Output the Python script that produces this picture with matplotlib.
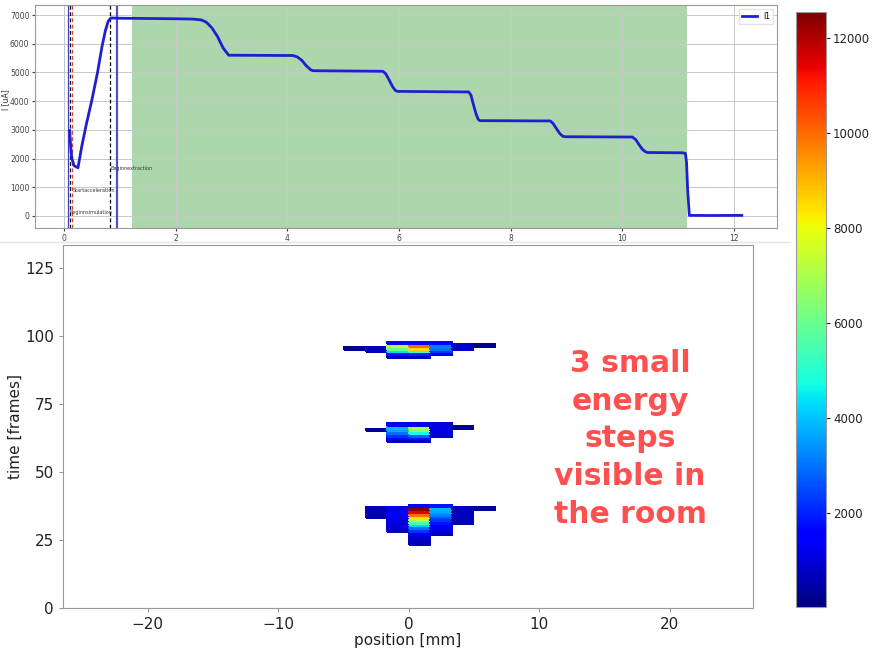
import numpy as np
import matplotlib
matplotlib.use("Agg")
import matplotlib.pyplot as plt
from matplotlib.colors import Normalize
from matplotlib.lines import Line2D

nan = np.nan

# ---------------- top panel data (beam current vs time) ----------------
t_s = [0.10, 0.12, 0.14, 0.18, 0.25, 0.32, 0.40, 0.50, 0.60, 0.68, 0.74, 0.79, 0.84,
       0.95, 1.5, 2.0, 2.30, 2.46, 2.55, 2.65, 2.75, 2.85, 2.95,
       4.10, 4.18, 4.26, 4.34, 4.42, 4.46,
       5.71, 5.76, 5.82, 5.88, 5.93, 5.97,
       7.25, 7.29, 7.33, 7.38, 7.42, 7.45,
       8.71, 8.76, 8.82, 8.88, 8.93, 8.97,
       10.18, 10.24, 10.30, 10.36, 10.41, 10.45,
       11.08, 11.13, 11.15, 11.17, 11.20, 11.6, 12.14]
current_uA = [2975, 2400, 2000, 1750, 1680, 2450, 3200, 4050, 5000, 5900, 6450, 6780, 6900,
              6890, 6880, 6870, 6860, 6830, 6750, 6550, 6250, 5850, 5600,
              5590, 5540, 5420, 5230, 5090, 5060,
              5040, 4960, 4750, 4520, 4380, 4340,
              4320, 4200, 3900, 3550, 3360, 3320,
              3310, 3220, 3040, 2870, 2780, 2760,
              2750, 2660, 2480, 2320, 2240, 2210,
              2200, 2180, 1860, 900, 20, 15, 20]
green_start, green_end = 1.22, 11.15
event_labels = ["Beginnsimulation", "Startacceleration", "Beginnextraction"]

# ---------------- bottom panel data (position vs time histogram) ----------------
x_edges = [-4.95, -3.3, -1.65, 0.0, 1.65, 3.3, 4.95, 6.6]

blob1_start = 92   # rows bottom -> top, one frame each
blob1 = [
    [nan, nan,  700,   800,  nan, nan, nan],
    [nan, nan, 1800,  2000, 1200, nan, nan],
    [nan, 600, 4300,  5500, 2200, nan, nan],
    [300, 700, 6000,  8500, 3000, 800, nan],
    [nan, nan, 7200, 10000, 3200, 900, 300],
    [nan, nan, 1500,  1600, 1400, nan, nan],
]

blob2_start = 61
blob2 = [
    [nan, nan,  900,  900,  nan, nan, nan],
    [nan, nan, 1600, 1800,  nan, nan, nan],
    [nan, nan, 2200, 2800,  900, nan, nan],
    [nan, nan, 3000, 4800, 1000, nan, nan],
    [nan, 300, 3600, 6200, 1100, nan, nan],
    [nan, nan, 3800, 7000, 1100, 300, nan],
    [nan, nan, 1300, 1300, 1000, nan, nan],
]

blob3_start = 23
blob3 = [
    [nan, nan,  nan,   600,  nan, nan, nan],
    [nan, nan,  nan,   700,  nan, nan, nan],
    [nan, nan,  nan,   800,  nan, nan, nan],
    [nan, nan,  nan,  1000,  nan, nan, nan],
    [nan, nan,  nan,  1500,  800, nan, nan],
    [nan, nan,  700,  2200, 1000, nan, nan],
    [nan, nan,  900,  3000, 1200, nan, nan],
    [nan, nan, 1000,  4200, 1500, nan, nan],
    [nan, nan, 1100,  5500, 1800, 500, nan],
    [nan, nan, 1200,  7000, 2200, 600, nan],
    [nan, 500, 1200,  8500, 2600, 700, nan],
    [nan, 600, 1300, 10000, 3200, 700, nan],
    [nan, 600, 1300, 11500, 3600, 700, nan],
    [nan, 600, 1200, 12500, 3800, 700, 300],
    [nan, nan,  nan,  1500, 1800, nan, nan],
]

cbar_ticks = [2000, 4000, 6000, 8000, 10000, 12000]
vmin, vmax = 20, 12550

annotation = "3 small\nenergy\nsteps\nvisible in\nthe room"

# ---------------- figure ----------------
W, H = 877, 650
fig = plt.figure(figsize=(W / 100, H / 100), dpi=100)

def box(l, t, r, b):
    return [l / W, 1 - b / H, (r - l) / W, (b - t) / H]

# top panel
ax1 = fig.add_axes(box(35, 5, 777, 228))
ax1.set_axisbelow('line')
ax1.axvspan(green_start, green_end, color='#acd6ac', lw=0, zorder=1)
ax1.plot(t_s, current_uA, color='#1f1fcf', lw=2.0, label='I1', zorder=3)
ax1.axvline(0.08, color='#3b3bd0', lw=0.9, zorder=2.5)
ax1.axvline(0.10, color='black', lw=0.9, ls=(0, (3, 2)), zorder=2.5)
ax1.axvline(0.14, color='#d04040', lw=0.9, ls=(0, (3, 2)), zorder=2.5)
ax1.axvline(0.83, color='black', lw=0.9, ls=(0, (3, 2)), zorder=2.5)
ax1.axvline(0.95, color='#5050c8', lw=1.6, zorder=2.5)
ax1.text(0.09, 30, event_labels[0], fontsize=3.5, color='#333333', va='bottom')
ax1.text(0.15, 800, event_labels[1], fontsize=3.5, color='#333333', va='bottom')
ax1.text(0.84, 1550, event_labels[2], fontsize=3.5, color='#333333', va='bottom')
ax1.set_xlim(-0.52, 12.77)
ax1.set_ylim(-420, 7350)
ax1.set_xticks([0, 2, 4, 6, 8, 10, 12])
ax1.set_yticks(np.arange(0, 7001, 1000))
ax1.grid(True, color='#c8c8c8', lw=0.7)
ax1.tick_params(labelsize=5.5, colors='#444444', length=2, pad=2)
for s in ax1.spines.values():
    s.set_color('#999999')
ax1.legend(loc='upper right', fontsize=5.5, handlelength=2, frameon=True,
           edgecolor='#dddddd', fancybox=False)
fig.text(1 / W, 1 - 100 / H, "I [uA]", rotation=90, fontsize=5.5,
         color='#333333', va='center', ha='left')

# bottom panel
ax2 = fig.add_axes(box(63, 245, 753, 608))
norm = Normalize(vmin=vmin, vmax=vmax)
cmap = plt.get_cmap('jet')
for start, blob in [(blob1_start, blob1), (blob2_start, blob2), (blob3_start, blob3)]:
    Z = np.ma.masked_invalid(np.array(blob, dtype=float))
    y_edges = np.arange(start, start + Z.shape[0] + 1)
    ax2.pcolormesh(x_edges, y_edges, Z, cmap=cmap, norm=norm, shading='flat',
                   edgecolors='face', linewidth=0.3)
ax2.set_xlim(-26.5, 26.4)
ax2.set_ylim(0, 133.5)
ax2.set_xticks([-20, -10, 0, 10, 20])
ax2.set_yticks([0, 25, 50, 75, 100, 125])
ax2.set_xticklabels(["\u221220", "\u221210", "0", "10", "20"])
ax2.tick_params(labelsize=11, colors='#222222', length=3)
ax2.tick_params(axis='both', color='#999999')
for s in ax2.spines.values():
    s.set_color('#999999')
ax2.set_xlabel("position [mm]", fontsize=11, color='#222222', labelpad=1)
ax2.set_ylabel("time [frames]", fontsize=11, color='#222222', labelpad=2)

ax2.text(630 / W, 1 - 439 / H, annotation, transform=fig.transFigure,
         ha='center', va='center', fontsize=21.5, fontweight='bold',
         family=['DejaVu Sans'], color='#ff5050',
         linespacing=1.38)

# colorbar
cax = fig.add_axes(box(796, 12, 826, 607))
sm = matplotlib.cm.ScalarMappable(norm=norm, cmap=cmap)
cb = fig.colorbar(sm, cax=cax, ticks=cbar_ticks)
cb.ax.tick_params(labelsize=8.5, colors='#222222', length=3, pad=2)
cb.outline.set_edgecolor('#999999')

fig.add_artist(Line2D([0, 790 / W], [1 - 242 / H, 1 - 242 / H],
                      transform=fig.transFigure, color='#e4e4e4', lw=1))

fig.savefig("out.png", dpi=100)
